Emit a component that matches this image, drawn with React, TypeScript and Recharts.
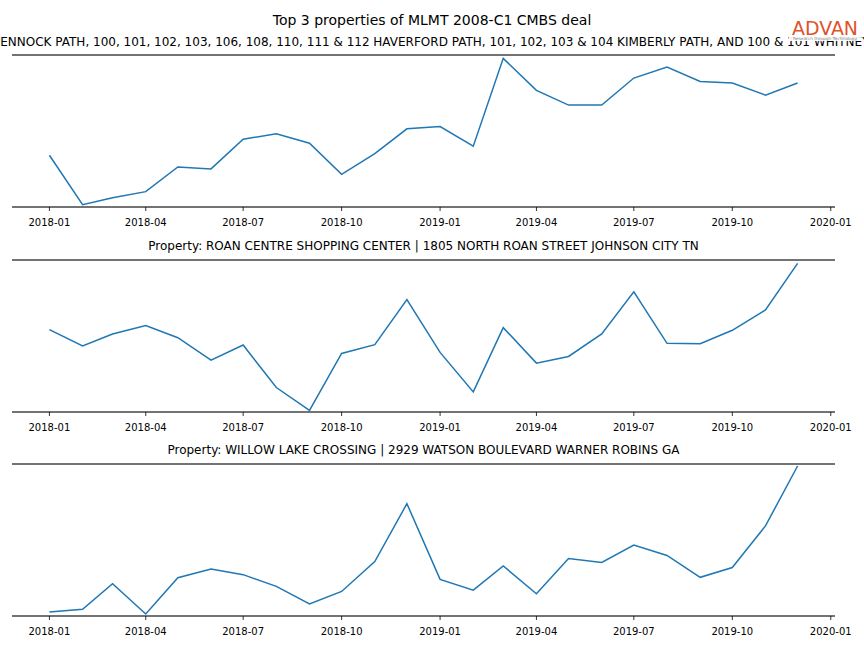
import React from "react";
import { LineChart, Line, XAxis, YAxis, ReferenceLine } from "recharts";

const months = [
  "2018-01", "2018-02", "2018-03", "2018-04", "2018-05", "2018-06",
  "2018-07", "2018-08", "2018-09", "2018-10", "2018-11", "2018-12",
  "2019-01", "2019-02", "2019-03", "2019-04", "2019-05", "2019-06",
  "2019-07", "2019-08", "2019-09", "2019-10", "2019-11", "2019-12",
];

const series1 = [155, 7, 28, 46, 120, 114, 203, 219, 191, 98, 160, 234, 241, 182, 445, 349, 305, 305, 386, 419, 376, 371, 335, 371];
const series2 = [246, 197, 233, 258, 222, 155, 200, 73, 5, 175, 201, 336, 178, 60, 252, 146, 166, 233, 359, 205, 204, 244, 305, 444];
const series3 = [12, 20, 96, 6, 114, 140, 123, 88, 36, 73, 162, 334, 109, 77, 149, 66, 171, 159, 211, 180, 115, 144, 268, 446];

const yMax1 = 455;
const yMax2 = 454;
const yMax3 = 452;

const tickLabels = ["2018-01", "2018-04", "2018-07", "2018-10", "2019-01", "2019-04", "2019-07", "2019-10", "2020-01"];

const titles = [
  "PENNOCK PATH, 100, 101, 102, 103, 106, 108, 110, 111 & 112 HAVERFORD PATH, 101, 102, 103 & 104 KIMBERLY PATH, AND 100 & 101 WHITNEY (",
  "Property: ROAN CENTRE SHOPPING CENTER | 1805 NORTH ROAN STREET JOHNSON CITY TN",
  "Property: WILLOW LAKE CROSSING | 2929 WATSON BOULEVARD WARNER ROBINS GA",
];

const mainTitle = "Top 3 properties of MLMT 2008-C1 CMBS deal";

const toT = (m: string) => Date.parse(m + "-01T00:00:00Z");
const DAY = 86400000;
const tFirst = toT(months[0]);
const tLast = toT(months[months.length - 1]);
const pad = (tLast - tFirst) * 0.05;
const xDomain: [number, number] = [tFirst - pad, tLast + pad];
const ticks = tickLabels.map(toT);

const fmt = (v: number) => {
  const d = new Date(v + DAY);
  const y = d.getUTCFullYear();
  const m = d.getUTCMonth() + 1;
  return `${y}-${m < 10 ? "0" + m : m}`;
};

const allSeries = [
  { values: series1, yMax: yMax1 },
  { values: series2, yMax: yMax2 },
  { values: series3, yMax: yMax3 },
];

const FONT = "DejaVu Sans, sans-serif";
const SPINE = "#444444";
const LINE = "#1f77b4";

function Panel({ values, yMax }: { values: number[]; yMax: number }) {
  const data = months.map((m, i) => ({ t: toT(m), v: values[i] }));
  return (
    <LineChart width={864} height={240} data={data} margin={{ top: 55, right: 29, left: 12, bottom: 0 }}>
      <XAxis
        dataKey="t"
        type="number"
        scale="time"
        domain={xDomain}
        ticks={ticks}
        tickFormatter={fmt}
        height={33}
        axisLine={{ stroke: SPINE, strokeWidth: 1.6 }}
        tickLine={{ stroke: "#000", strokeWidth: 0.8 }}
        tickSize={4}
        tickMargin={8}
        tick={{ fill: "#000", fontSize: 10, fontFamily: FONT }}
        interval={0}
        allowDataOverflow
      />
      <YAxis hide domain={[0, yMax]} allowDataOverflow />
      <ReferenceLine y={yMax} stroke={SPINE} strokeWidth={1.6} ifOverflow="visible" />
      <Line
        type="linear"
        dataKey="v"
        stroke={LINE}
        strokeWidth={1.5}
        dot={false}
        isAnimationActive={false}
      />
    </LineChart>
  );
}

export default function App() {
  const tops = [0, 204.5, 409];
  const titleY = [46.4, 250.4, 454.4];
  return (
    <div style={{ position: "absolute", left: 0, top: 0, width: 864, height: 648, background: "#fff", overflow: "hidden" }}>
      {allSeries.map((s, i) => (
        <div key={i} style={{ position: "absolute", left: 0, top: tops[i] }}>
          <Panel values={s.values} yMax={s.yMax} />
        </div>
      ))}
      <svg width={864} height={648} style={{ position: "absolute", left: 0, top: 0, pointerEvents: "none" }}>
        <text x={432} y={25} textAnchor="middle" fontSize={14} fontFamily={FONT} fill="#000">
          {mainTitle}
        </text>
        <text x={-7} y={titleY[0]} textAnchor="start" fontSize={12} fontFamily={FONT} fill="#000">
          {titles[0]}
        </text>
        <text x={423.5} y={titleY[1]} textAnchor="middle" fontSize={12} fontFamily={FONT} fill="#000">
          {titles[1]}
        </text>
        <text x={423.5} y={titleY[2]} textAnchor="middle" fontSize={12} fontFamily={FONT} fill="#000">
          {titles[2]}
        </text>
        <rect x={789} y={16} width={72} height={25} fill="#fff" opacity={0.92} />
        <text x={825} y={35} textAnchor="middle" fontSize={20} fontFamily={FONT} fill="#e0522a" textLength={66} lengthAdjust="spacingAndGlyphs">
          ADVAN
        </text>
        <text x={825} y={40} textAnchor="middle" fontSize={4} fontFamily={FONT} fill="#888" textLength={64} lengthAdjust="spacingAndGlyphs">
          Research through Technology
        </text>
      </svg>
    </div>
  );
}
